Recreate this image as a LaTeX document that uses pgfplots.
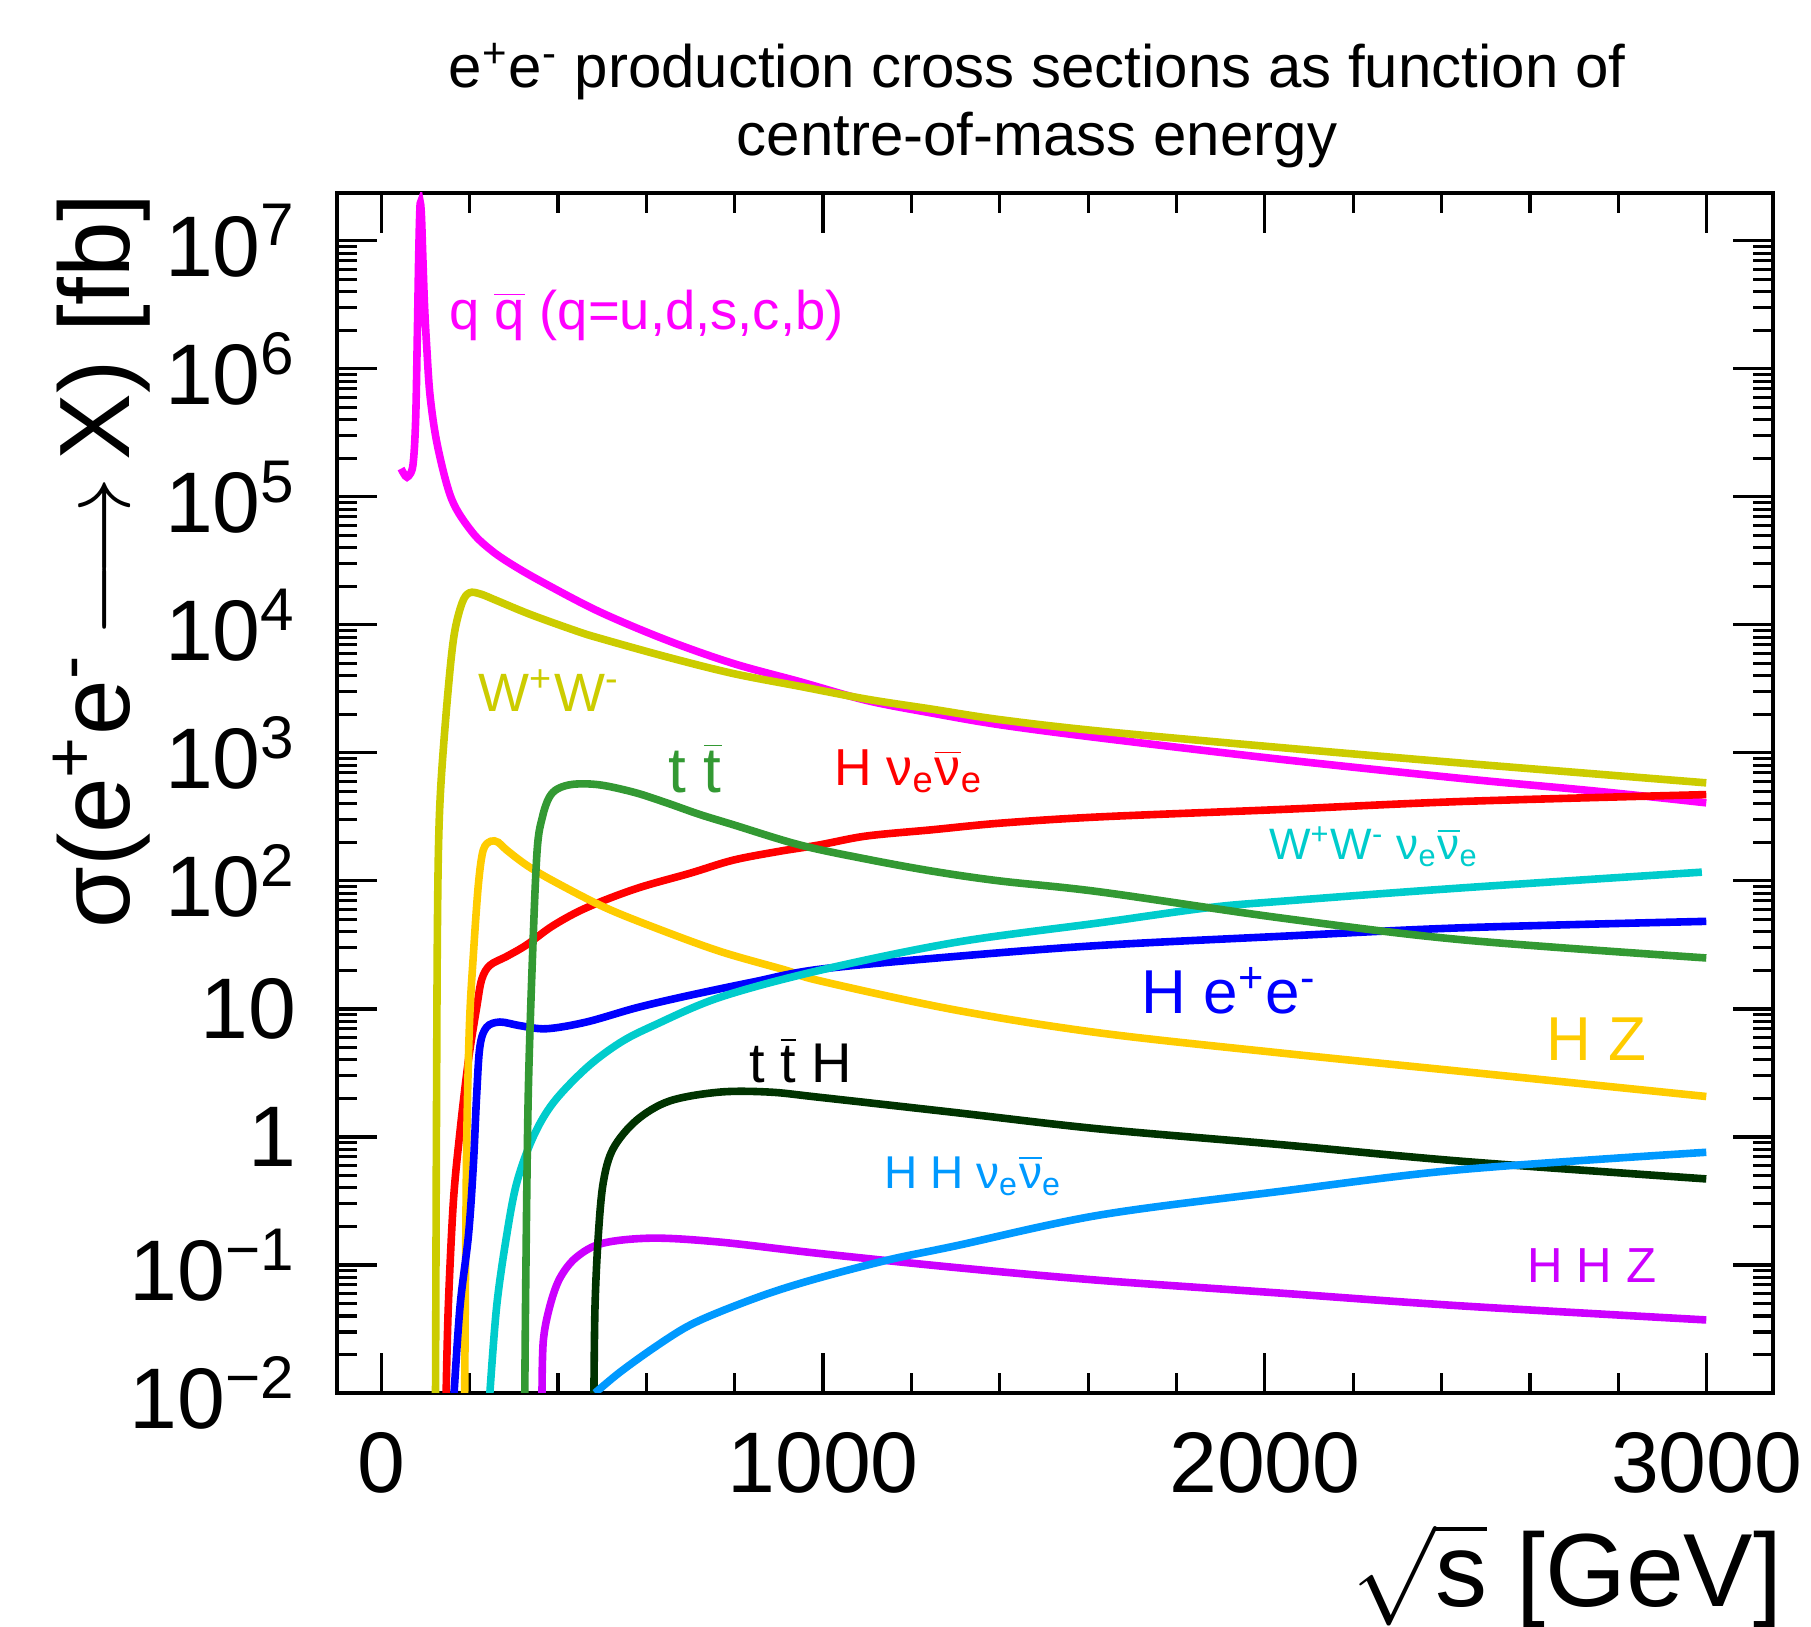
\documentclass[border=0pt]{standalone}
\usepackage{fontspec}
\setmainfont{Liberation Sans}
\usepackage{pgfplots}
\pgfplotsset{compat=1.18}

\definecolor{cqq}{HTML}{FF00FF}
\definecolor{cww}{HTML}{CCCC00}
\definecolor{chnn}{HTML}{FF0000}
\definecolor{ctt}{HTML}{339933}
\definecolor{cwwnn}{HTML}{00CCCC}
\definecolor{chee}{HTML}{0000FF}
\definecolor{chz}{HTML}{FFCC00}
\definecolor{ctth}{HTML}{003300}
\definecolor{chhnn}{HTML}{0099FF}
\definecolor{chhz}{HTML}{CC00FF}

\newcommand{\fs}[1]{\fontsize{#1}{#1}\selectfont}
\newcommand{\ob}[1]{$\overline{\hbox{#1}}$}

\begin{document}
\begin{tikzpicture}
\useasboundingbox (-84.25pt,-58.5pt) rectangle (368.5pt,348.25pt);
\begin{axis}[
  scale only axis, width=359pt, height=300pt,
  ymode=log, xmin=-100, xmax=3150, ymin=0.01, ymax=2.36e7,
  xtick={0,1000,2000,3000}, xticklabels={0,1000,2000,3000},
  minor x tick num=4,
  ytickten={-2,...,7},
  yticklabels={10\textsuperscript{−2},10\textsuperscript{−1},1,10,10\textsuperscript{2},10\textsuperscript{3},10\textsuperscript{4},10\textsuperscript{5},10\textsuperscript{6},10\textsuperscript{7}},
  major tick length=10pt, minor tick length=5pt,
  tick style={black, line width=0.8pt},
  axis line style={line width=1.2pt},
  ticklabel style={font=\fs{21.5}},
  xticklabel style={inner sep=0pt, yshift=-9.75pt},
  yticklabel style={inner sep=0pt, xshift=-10pt},
  every axis plot/.append style={line width=1.9pt, no markers, smooth, tension=0.55},
]
% q qbar
\addplot[cqq] coordinates {(45,1.66e5)(55,1.45e5)(62,1.45e5)(72,1.78e5)(78,3.98e5)(82,2.0e6)(85,7.9e6)(88,1.9e7)(91,1.6e7)(94,8e6)(98,3.2e6)(103,1.5e6)(111,6.0e5)(128,2.45e5)(160,9.5e4)(206,5.3e4)(250,3.8e4)(300,2.9e4)(371,2.1e4)(495,1.26e4)(646,7.6e3)(796,5.0e3)(947,3.6e3)(1098,2.57e3)(1248,2.04e3)(1399,1.66e3)(1625,1.31e3)(2035,891)(2445,631)(2753,501)(2999,407)};
% W+W-
\addplot[cww] coordinates {(123,0.01)(125,1)(127,31.6)(130,200)(136,631)(151,2950)(165,8300)(183,1.48e4)(200,1.78e4)(225,1.74e4)(261,1.55e4)(339,1.2e4)(444,8900)(495,7850)(646,5620)(796,4170)(947,3310)(1098,2630)(1248,2190)(1399,1820)(1625,1480)(2035,1100)(2445,832)(2999,583)};
% H nu nubar
\addplot[chnn] coordinates {(147,0.01)(152,0.048)(163.5,0.316)(178.6,1.12)(197.5,3.98)(216,10.2)(227.6,17.0)(246,21.9)(284,25.7)(329,31.6)(389,44.7)(464.5,61.7)(577.5,87.1)(700,115)(796,145)(900,170)(992,191)(1098,224)(1248,251)(1399,282)(1625,316)(2035,361)(2445,417)(2999,472)};
% HZ
\addplot[chz] coordinates {(189,0.01)(191,0.1)(194,1.12)(200,7.9)(208.6,26.3)(219.9,93)(231,174)(248,204)(265,200)(284,174)(330,132)(389,100)(502,63)(615,43.7)(766,28.2)(917,20.0)(992,16.6)(1300,9.8)(1625,6.5)(2035,4.53)(2445,3.25)(2999,2.07)};
% H e+e-
\addplot[chee] coordinates {(165,0.01)(178.6,0.048)(197.5,0.17)(208.6,0.6)(216,2.09)(223.5,5.1)(238.6,7.2)(268.7,7.9)(314,7.4)(374,7.0)(464.5,7.9)(577.5,10.2)(690.6,12.6)(841,16.2)(992,20.4)(1300,25.7)(1625,31.3)(2035,36.9)(2445,43.0)(2999,48.3)};
% W+W- nu nubar
\addplot[cwwnn] coordinates {(246,0.01)(261.5,0.048)(284,0.17)(307,0.44)(344,1.0)(390,1.86)(465,3.47)(540,5.43)(616,7.4)(766,12.3)(992,20.0)(1300,33.1)(1625,47.0)(1871,61.7)(2035,69.2)(2445,88.1)(2989,117)};
% t tbar
\addplot[ctt] coordinates {(325,0.01)(327.5,0.089)(332.8,2.09)(342.6,26.3)(353,174)(365,316)(380,447)(400,525)(436,569)(495,562)(574,490)(646,407)(720,331)(796,275)(947,191)(1098,148)(1248,119)(1399,100)(1625,82.2)(2035,51.4)(2445,34.7)(2999,25.0)};
% HHZ
\addplot[chhz] coordinates {(364,0.01)(367,0.0257)(382,0.048)(404.6,0.079)(442,0.115)(502,0.148)(615,0.162)(766,0.151)(992,0.123)(1300,0.0955)(1625,0.0759)(2035,0.0603)(2445,0.0479)(2999,0.0372)};
% t tbar H
\addplot[ctth] coordinates {(481.5,0.01)(484,0.048)(491.4,0.17)(502.6,0.44)(525,0.81)(578,1.35)(653,1.91)(766,2.24)(879,2.24)(992,2.04)(1300,1.55)(1625,1.155)(2035,0.871)(2445,0.646)(2999,0.47)};
% HH nu nubar
\addplot[chhnn] coordinates {(484,0.01)(540,0.0145)(616,0.0224)(691,0.0328)(766,0.0430)(879,0.0603)(992,0.0794)(1150,0.110)(1300,0.141)(1625,0.245)(2035,0.376)(2445,0.556)(2999,0.759)};
\end{axis}
% title
\node[anchor=base, font=\fs{15}] at (175pt,326.25pt) {e\textsuperscript{+}e\textsuperscript{-} production cross sections as function of};
\node[anchor=base, font=\fs{15}] at (175pt,309.25pt) {centre-of-mass energy};
% axis labels
\node[anchor=base east, font=\fs{26}, inner sep=0pt] at (361.5pt,-53.5pt) {$\sqrt{\hbox{s}}$ [GeV]};
\node[anchor=base east, rotate=90, font=\fs{25}, inner sep=0pt] at (-51.75pt,300pt) {σ(e\textsuperscript{+}e\textsuperscript{-}\,$\longrightarrow$\,X) [fb]};
% curve labels
\node[anchor=west, inner sep=0pt, text=cqq, font=\fs{13.6}] at (27.8pt,269.4pt) {q \ob{q} (q=u,d,s,c,b)};
\node[anchor=west, inner sep=0pt, text=cww, font=\fs{13.5}] at (35.3pt,175.6pt) {W\textsuperscript{+}W\textsuperscript{-}};
\node[anchor=west, inner sep=0pt, text=ctt, font=\fs{16}] at (82.6pt,156.2pt) {t \ob{t}};
\node[anchor=west, inner sep=0pt, text=chnn, font=\fs{13}] at (124.2pt,155.4pt) {H ν\textsubscript{e}\ob{ν}\textsubscript{e}};
\node[anchor=west, inner sep=0pt, text=cwwnn, font=\fs{11}] at (232.8pt,136.6pt) {W\textsuperscript{+}W\textsuperscript{-} ν\textsubscript{e}\ob{ν}\textsubscript{e}};
\node[anchor=west, inner sep=0pt, text=chee, font=\fs{15.5}] at (201pt,100.5pt) {H e\textsuperscript{+}e\textsuperscript{-}};
\node[anchor=west, inner sep=0pt, text=chz, font=\fs{15.5}] at (302.1pt,88.4pt) {H Z};
\node[anchor=west, inner sep=0pt, text=black, font=\fs{14}] at (102.9pt,83.2pt) {t \ob{t} H};
\node[anchor=west, inner sep=0pt, text=chhnn, font=\fs{11.5}] at (136.6pt,54.3pt) {H H ν\textsubscript{e}\ob{ν}\textsubscript{e}};
\node[anchor=west, inner sep=0pt, text=chhz, font=\fs{12.3}] at (297.5pt,31.8pt) {H H Z};
\end{tikzpicture}
\end{document}
